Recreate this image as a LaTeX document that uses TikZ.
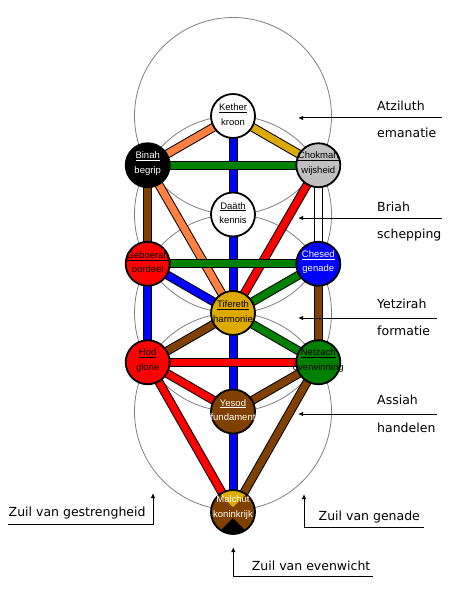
\documentclass[tikz,border=0pt]{standalone}
\usepackage{fontspec}
\setmainfont{Liberation Sans}
\newfontfamily\labelfont{DejaVu Sans}
\usetikzlibrary{arrows.meta,backgrounds}
\definecolor{tsalmon}{RGB}{255,128,64}
\definecolor{tgold}{RGB}{220,170,0}
\definecolor{tbrown}{RGB}{128,64,0}
\definecolor{tgreen}{RGB}{0,128,0}
\definecolor{tred}{RGB}{255,0,0}
\definecolor{tblue}{RGB}{0,0,255}
\definecolor{tsilver}{RGB}{192,192,192}
\definecolor{ringgray}{RGB}{128,128,128}
\begin{document}
\begin{tikzpicture}[x=1pt,y=-1pt,
  sef/.style={circle, draw=black, line width=1.8pt, minimum size=44pt, inner sep=0pt},
  txt/.style={align=center, font=\fontsize{9.5}{14.5}\selectfont, inner sep=0pt, yshift=1.5pt},
  bar/.style={line width=1pt, double=#1, double distance=7pt},
  ring/.style={draw=ringgray, line width=0.8pt},
  lbl/.style={font=\labelfont\fontsize{12.5}{15}\selectfont, anchor=base west, inner sep=0pt},
  ptr/.style={line width=1pt, -{Latex[length=5pt,width=4.5pt]}}
]
\useasboundingbox (0,0) rectangle (475,604);

% sefirot
\node[sef, fill=white, label={[txt]center:{\underline{Kether}\\kroon}}] (K) at (233,116) {};
\node[sef, fill=black, label={[txt,text=white]center:{\underline{Binah}\\begrip}}] (B) at (147.7,165.25) {};
\node[sef, fill=tsilver, label={[txt]center:{\underline{Chokmah}\\wijsheid}}] (C) at (318.3,165.25) {};
\node[sef, fill=white, label={[txt]center:{\underline{Daäth}\\kennis}}] (D) at (233,214.5) {};
\node[sef, fill=tred, label={[txt]center:{\underline{Geboerah}\\oordeel}}] (G) at (147.7,263.75) {};
\node[sef, fill=tblue, label={[txt,text=white]center:{\underline{Chesed}\\genade}}] (Ch) at (318.3,263.75) {};
\node[sef, fill=tgold, label={[txt]center:{\underline{Tifereth}\\harmonie}}] (T) at (233,313) {};
\node[sef, fill=tred, label={[txt]center:{\underline{Hod}\\glorie}}] (H) at (147.7,362.25) {};
\node[sef, fill=tgreen, label={[txt]center:{\underline{Netzach}\\overwinning}}] (N) at (318.3,362.25) {};
\node[sef, fill=tbrown, label={[txt,text=white]center:{\underline{Yesod}\\fundament}}] (Y) at (233,411.5) {};
\node[sef, fill=tbrown,
  path picture={
    \fill[tgold] ([yshift=5pt]path picture bounding box.center) -- ([xshift=-40pt,yshift=45pt]path picture bounding box.center) -- ([xshift=40pt,yshift=45pt]path picture bounding box.center) -- cycle;
    \fill[black] ([yshift=-6pt]path picture bounding box.center) -- ([xshift=-40pt,yshift=-46pt]path picture bounding box.center) -- ([xshift=40pt,yshift=-46pt]path picture bounding box.center) -- cycle;
  },
  label={[txt,text=white,yshift=3pt]center:{Malchut\\koninkrijk}}] (M) at (233,512) {};

\begin{pgfonlayer}{background}
  \foreach \c in {K,D,T,Y} \draw[ring] (\c.center) circle[radius=98.5];
  \draw[bar=tsalmon] (K.center) -- (B.center);
  \draw[bar=tgold] (K.center) -- (C.center);
  \draw[bar=tblue] (K.center) -- (D.center);
  \draw[bar=tblue] (D.center) -- (T.center);
  \draw[bar=tblue] (T.center) -- (Y.center);
  \draw[bar=tblue] (Y.center) -- (M.center);
  \draw[bar=tbrown] (B.center) -- (G.center);
  \draw[bar=tsalmon] (B.center) -- (T.center);
  \draw[bar=tred] (C.center) -- (T.center);
  \draw[bar=white] (C.center) -- (Ch.center);
  \draw[bar=tblue] (G.center) -- (T.center);
  \draw[bar=tgreen] (Ch.center) -- (T.center);
  \draw[bar=tbrown] (Ch.center) -- (N.center);
  \draw[bar=tblue] (G.center) -- (H.center);
  \draw[bar=tbrown] (T.center) -- (H.center);
  \draw[bar=tgreen] (T.center) -- (N.center);
  \draw[bar=tred] (H.center) -- (Y.center);
  \draw[bar=tbrown] (N.center) -- (Y.center);
  \draw[bar=tred] (H.center) -- (M.center);
  \draw[bar=tbrown] (N.center) -- (M.center);
  \draw[bar=tgreen] (B.center) -- (C.center);
  \draw[bar=tgreen] (G.center) -- (Ch.center);
  \draw[bar=tred] (H.center) -- (N.center);
\end{pgfonlayer}

% worlds
\coordinate (w1s) at (442,118); \coordinate (w1e) at (298,118);
\coordinate (w2s) at (442,218); \coordinate (w2e) at (298,218);
\coordinate (w3s) at (437,318); \coordinate (w3e) at (298,318);
\coordinate (w4s) at (437,414); \coordinate (w4e) at (298,414);
\draw[ptr] (w1s) -- (w1e);
\draw[ptr] (w2s) -- (w2e);
\draw[ptr] (w3s) -- (w3e);
\draw[ptr] (w4s) -- (w4e);
\node[lbl] (atz) at (377,111) {Atziluth};
\node[lbl] (ema) at (377,138) {emanatie};
\node[lbl] (bri) at (377,211) {Briah};
\node[lbl] (sch) at (377,238) {schepping};
\node[lbl] (yet) at (377,308) {Yetzirah};
\node[lbl] (for) at (377,335.5) {formatie};
\node[lbl] (ass) at (377,404) {Assiah};
\node[lbl] (han) at (377,432) {handelen};

% pillars
\coordinate (pg1) at (8,524); \coordinate (pg2) at (153,524); \coordinate (pg3) at (153,493);
\draw[ptr] (pg1) -- (pg2) -- (pg3);
\node[lbl] (zg) at (8.5,516.5) {Zuil van gestrengheid};
\coordinate (pm1) at (424,527); \coordinate (pm2) at (304,527); \coordinate (pm3) at (304,494);
\draw[ptr] (pm1) -- (pm2) -- (pm3);
\node[lbl] (zm) at (318.5,520.5) {Zuil van genade};
\coordinate (pe1) at (373,576); \coordinate (pe2) at (233.3,576); \coordinate (pe3) at (233.3,547);
\draw[ptr] (pe1) -- (pe2) -- (pe3);
\node[lbl] (ze) at (251.7,570) {Zuil van evenwicht};
\end{tikzpicture}
\end{document}
